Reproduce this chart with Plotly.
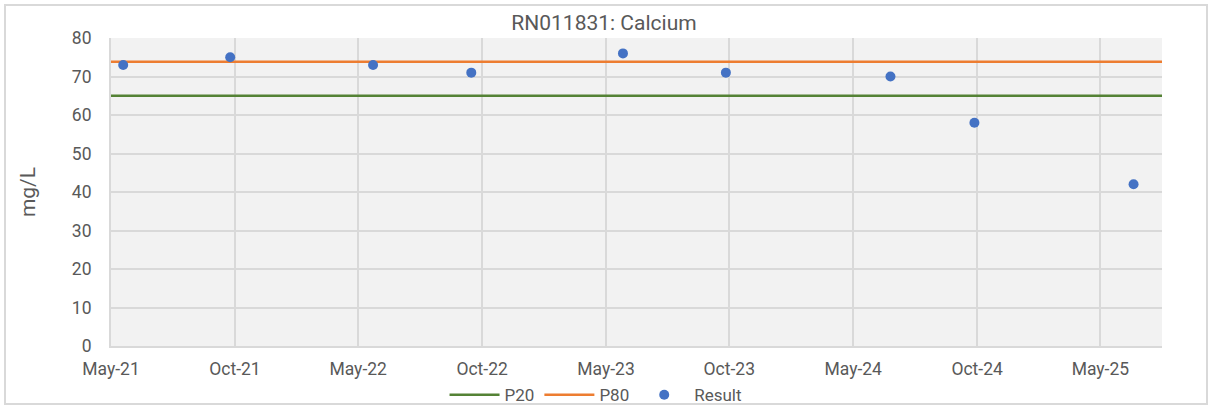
import plotly.graph_objects as go

title = "RN011831: Calcium"
y_label = "mg/L"
sample_dates = ["2021-05-19", "2021-10-24", "2022-05-23", "2022-10-15", "2023-05-27",
                "2023-10-26", "2024-06-25", "2024-10-27", "2025-06-19"]
results = [73, 75, 73, 71, 76, 71, 70, 58, 42]
p20_value = 65
p80_value = 73.8
x_start = "2021-05-01"
x_end = "2025-07-31"
tick_dates = ["2021-05-01", "2021-10-31", "2022-05-01", "2022-10-31", "2023-05-02",
              "2023-10-31", "2024-05-01", "2024-10-31", "2025-05-01"]
tick_labels = ["May-21", "Oct-21", "May-22", "Oct-22", "May-23",
               "Oct-23", "May-24", "Oct-24", "May-25"]
y_ticks = [0, 10, 20, 30, 40, 50, 60, 70, 80]

FONT = "Roboto"
GREY = "#595959"

fig = go.Figure()
fig.add_trace(go.Scatter(x=[x_start, x_end], y=[p20_value, p20_value], mode="lines",
                         name="P20", line=dict(color="#548235", width=2.5)))
fig.add_trace(go.Scatter(x=[x_start, x_end], y=[p80_value, p80_value], mode="lines",
                         name="P80", line=dict(color="#ED7D31", width=2.5)))
fig.add_trace(go.Scatter(x=sample_dates, y=results, mode="markers", name="Result",
                         marker=dict(color="#4472C4", size=10)))

fig.update_layout(
    width=1208, height=407,
    margin=dict(l=111, r=46, t=38, b=61, autoexpand=False),
    paper_bgcolor="white", plot_bgcolor="#F2F2F2",
    font=dict(family=FONT, color=GREY, size=17),
    title=dict(text=title, x=0.5, xanchor="center", y=0.945, yanchor="middle",
               font=dict(family=FONT, size=21, color=GREY)),
    showlegend=True,
    legend=dict(orientation="h", x=0.4615, xanchor="center", y=-0.16, yanchor="middle",
                font=dict(family=FONT, size=17, color=GREY), bgcolor="rgba(0,0,0,0)",
                itemwidth=50),
)
fig.update_xaxes(type="date", range=[x_start, x_end], tickvals=tick_dates, ticktext=tick_labels,
                 showgrid=True, gridcolor="#D9D9D9", gridwidth=2, zeroline=False,
                 showline=True, linecolor="#D9D9D9", linewidth=2, ticks="", automargin=False,
                 ticklabelstandoff=6,
                 tickfont=dict(family=FONT, size=17.5, color=GREY))
fig.update_yaxes(range=[0, 80], tickvals=y_ticks, showgrid=True, gridcolor="#D9D9D9", gridwidth=2,
                 zeroline=False, showline=True, linecolor="#D9D9D9", linewidth=2, ticks="",
                 automargin=False, ticklabelstandoff=14,
                 title=dict(text=y_label, font=dict(family=FONT, size=21, color=GREY), standoff=30),
                 tickfont=dict(family=FONT, size=17.5, color=GREY))

# outer chart border
fig.add_shape(type="rect", xref="paper", yref="paper",
              x0=-106/1051, x1=1+45/1051, y0=-58/308, y1=1+33/308,
              line=dict(color="#D9D9D9", width=2), fillcolor="rgba(0,0,0,0)", layer="below")

fig.write_html("out.html", config={"displayModeBar": False},
               post_script="document.body.style.margin='0';")
